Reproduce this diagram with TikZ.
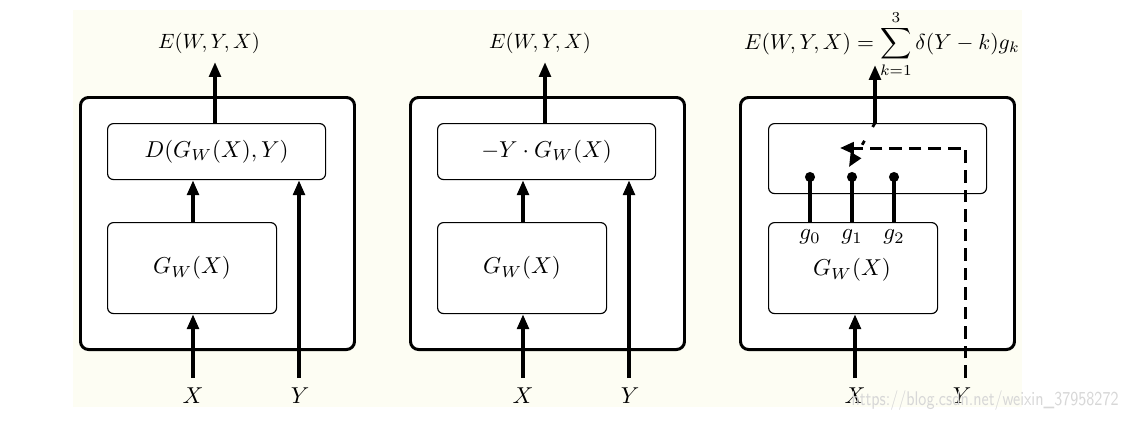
\documentclass[tikz,border=0pt]{standalone}
\usetikzlibrary{arrows.meta}
\def\u{0.435pt}
\definecolor{cream}{RGB}{253,253,243}
\definecolor{wm}{RGB}{215,215,215}
\begin{document}
\begin{tikzpicture}[x=0.435pt,y=-0.435pt,
  outerbox/.style={draw, rounded corners=3.5pt, line width=1.3pt, fill=white, anchor=north west, inner sep=0pt},
  box/.style={draw, rounded corners=2.6pt, line width=0.5pt, anchor=north west, inner sep=0pt},
  arr/.style={line width=1.7pt, -{Triangle[length=6.5pt,width=5pt]}},
  stem/.style={line width=1.7pt},
  dot/.style={circle, fill=black, inner sep=0pt, minimum size=4.4pt},
  dashy/.style={line width=1.3pt, dash pattern=on 5.5pt off 3pt, -{Triangle[length=6pt,width=5pt]}},
  dotty/.style={line width=1.2pt, dash pattern=on 2pt off 7pt, -{Triangle[length=6pt,width=5pt]}},
  lbl/.style={inner sep=0pt},
  elbl/.style={inner sep=0pt, scale=0.9}]
\useasboundingbox (0,0) rectangle (1129,420);
\fill[cream] (73,10) rectangle (1022,407);

% ---------- panel 1 ----------
\node[outerbox, minimum width=274*\u, minimum height=252*\u] (o1) at (79,96) {};
\node[box, minimum width=218*\u, minimum height=56*\u] (t1) at (107,123) {$D(G_W(X),Y)$};
\node[box, minimum width=169*\u, minimum height=91*\u] (b1) at (107,222) {$G_W(X)$};
\coordinate (xa1) at (193,378);
\coordinate (ya1) at (299,378);
\coordinate (ea1) at (215,62);
\node[lbl] (X1) at (193,396) {$X$};
\node[lbl] (Y1) at (300,396) {$Y$};
\node[elbl] (E1) at (209,43) {$E(W,Y,X)$};
\draw[arr] (xa1) -- (xa1 |- b1.south);
\draw[arr] (xa1 |- b1.north) -- (xa1 |- t1.south);
\draw[arr] (ya1) -- (ya1 |- t1.south);
\draw[arr] (ea1 |- t1.north) -- (ea1);

% ---------- panel 2 ----------
\node[outerbox, minimum width=274*\u, minimum height=252*\u] (o2) at (409,96) {};
\node[box, minimum width=218*\u, minimum height=56*\u] (t2) at (437,123) {$-Y\cdot G_W(X)$};
\node[box, minimum width=169*\u, minimum height=91*\u] (b2) at (437,222) {$G_W(X)$};
\coordinate (xa2) at (523,378);
\coordinate (ya2) at (629,378);
\coordinate (ea2) at (545,62);
\node[lbl] (X2) at (523,396) {$X$};
\node[lbl] (Y2) at (630,396) {$Y$};
\node[elbl] (E2) at (540,43) {$E(W,Y,X)$};
\draw[arr] (xa2) -- (xa2 |- b2.south);
\draw[arr] (xa2 |- b2.north) -- (xa2 |- t2.south);
\draw[arr] (ya2) -- (ya2 |- t2.south);
\draw[arr] (ea2 |- t2.north) -- (ea2);

% ---------- panel 3 ----------
\node[outerbox, minimum width=274*\u, minimum height=252*\u] (o3) at (739,96) {};
\node[box, minimum width=218*\u, minimum height=70*\u] (t3) at (768,123) {};
\node[box, minimum width=169*\u, minimum height=91*\u] (b3) at (768,222) {};
\node[lbl] (G3) at (852,270) {$G_W(X)$};
\node[lbl] (g0) at (810,237) {$g_0$};
\node[lbl] (g1) at (852,237) {$g_1$};
\node[lbl] (g2) at (894,237) {$g_2$};
\node[dot] (d0) at (810,177) {};
\node[dot] (d1) at (852,177) {};
\node[dot] (d2) at (894,177) {};
\draw[stem] (d0.center) -- (d0 |- b3.north);
\draw[stem] (d1.center) -- (d1 |- b3.north);
\draw[stem] (d2.center) -- (d2 |- b3.north);
\coordinate (xa3) at (855,378);
\coordinate (ya3) at (965,378);
\coordinate (yc3) at (965,148);
\coordinate (yt3) at (840,148);
\coordinate (ea3) at (875,65);
\coordinate (sw3) at (849,167);
\node[lbl] (X3) at (855,396) {$X$};
\node[lbl] (Y3) at (962,396) {$Y$};
\node[lbl, scale=0.945] (E3) at (882,44) {$\displaystyle E(W,Y,X)=\sum_{k=1}^{3}\delta(Y-k)g_k$};
\draw[arr] (xa3) -- (xa3 |- b3.south);
\draw[arr] (ea3 |- t3.north) -- (ea3);
\draw[dashy] (ya3) -- (yc3) -- (yt3);
\draw[dotty] (ea3 |- t3.north) -- (sw3);

% watermark
\node[lbl, text=wm, font=\sffamily\fontsize{8.6}{9}\selectfont, anchor=east] (wmk) at (1119,401) {\scalebox{0.79}[1]{https://blog.csdn.net/weixin\_37958272}};
\end{tikzpicture}
\end{document}
